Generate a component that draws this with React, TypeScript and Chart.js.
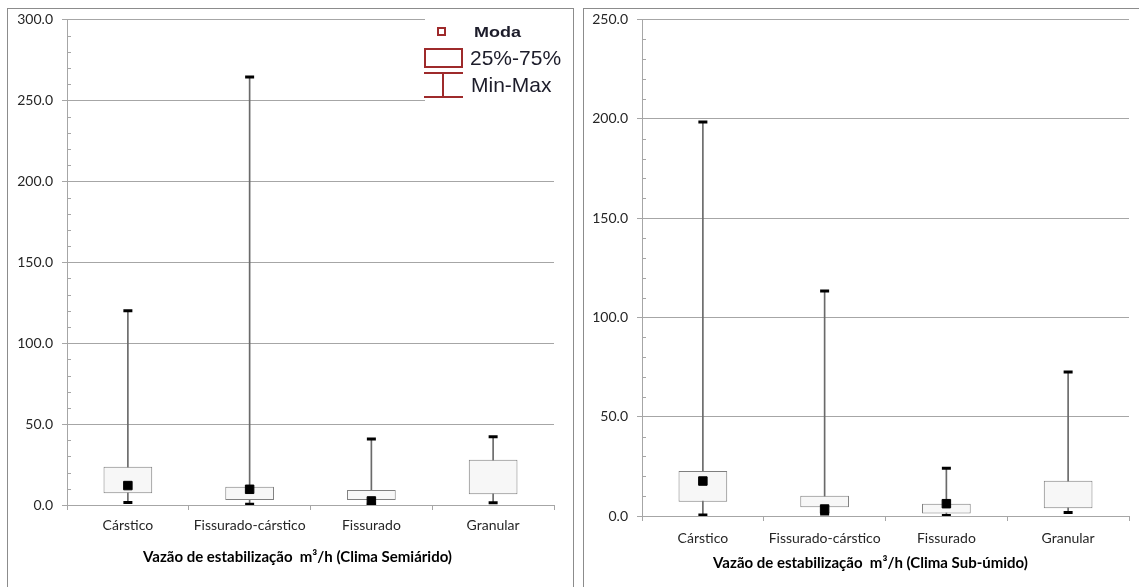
import React, { useEffect, useRef } from 'react';
import { Chart, registerables } from 'chart.js';

Chart.register(...registerables);

// ---------- data ----------
const categories = ['Cárstico', 'Fissurado-cárstico', 'Fissurado', 'Granular'];

// Clima Semiárido
const semiMin = [1.5, 0.5, 0.5, 1.4];
const semiQ1 = [7.2, 3.1, 3.1, 6.6];
const semiQ3 = [23.7, 11.3, 9.3, 28.0];
const semiMax = [120.0, 264.5, 40.8, 42.2];
const semiModa: (number | null)[] = [12.0, 9.7, 2.5, null];

// Clima Sub-úmido
const subMin = [0.5, 1.0, 0.2, 1.7];
const subQ1 = [7.2, 4.4, 1.3, 3.9];
const subQ3 = [22.7, 10.2, 6.2, 17.8];
const subMax = [198.4, 113.3, 24.0, 72.5];
const subModa: (number | null)[] = [17.6, 3.5, 6.2, null];

const semiYMax = 300;
const subYMax = 250;
const yMajorStep = 50;
const yMinorStep = 10;

const semiTitle = 'Vazão de estabilização  m³/h (Clima Semiárido)';
const subTitle = 'Vazão de estabilização  m³/h (Clima Sub-úmido)';

const legendLabels = ['Moda', '25%-75%', 'Min-Max'];

// ---------- styling ----------
const FONT = 'Lato, "Open Sans", sans-serif';
const GRID = '#a6a6a6';
const TXT = '#262626';
const LEG = '#9e2a2b';

const minorTicksPlugin = {
  id: 'minorTicks',
  afterDraw(chart: any) {
    const y = chart.scales.y;
    const ctx = chart.ctx;
    const x0 = chart.chartArea.left;
    ctx.save();
    ctx.strokeStyle = GRID;
    ctx.lineWidth = 1;
    for (let v = 0; v <= y.max; v += yMinorStep) {
      if (v % yMajorStep === 0) continue;
      const py = Math.round(y.getPixelForValue(v)) + 0.5;
      ctx.beginPath();
      ctx.moveTo(x0, py);
      ctx.lineTo(x0 + 4, py);
      ctx.stroke();
    }
    ctx.restore();
  },
};

const xTitlePlugin = {
  id: 'xTitle',
  afterDraw(chart: any, _args: any, opts: any) {
    const ctx = chart.ctx;
    const { left, right } = chart.chartArea;
    ctx.save();
    ctx.font = `bold 15px ${FONT}`;
    ctx.fillStyle = '#000';
    ctx.textAlign = 'center';
    ctx.textBaseline = 'middle';
    ctx.fillText(opts.text, (left + right) / 2 + opts.dx, opts.y);
    ctx.restore();
  },
};

const boxLegendPlugin = {
  id: 'boxLegend',
  afterDraw(chart: any) {
    const ctx = chart.ctx;
    ctx.save();
    // white background
    ctx.fillStyle = '#ffffff';
    ctx.fillRect(417, 5, 131, 91);
    ctx.strokeStyle = LEG;
    ctx.lineWidth = 2;
    // moda square
    ctx.strokeRect(430, 19, 7, 7);
    // box
    ctx.strokeRect(417, 40, 37, 18);
    // min-max
    ctx.beginPath();
    ctx.moveTo(416, 64);
    ctx.lineTo(455, 64);
    ctx.moveTo(435, 64);
    ctx.lineTo(435, 88);
    ctx.moveTo(416, 88);
    ctx.lineTo(455, 88);
    ctx.stroke();
    ctx.fillStyle = '#1c1c2a';
    ctx.textAlign = 'left';
    ctx.textBaseline = 'alphabetic';
    ctx.save();
    ctx.translate(466, 28);
    ctx.scale(1.2, 1);
    ctx.font = 'bold 15px "Liberation Sans", Arial, sans-serif';
    ctx.fillText(legendLabels[0], 0, 0);
    ctx.restore();
    ctx.font = '21px "Liberation Sans", Arial, sans-serif';
    ctx.fillText(legendLabels[1], 462, 56);
    ctx.fillText(legendLabels[2], 463, 83);
    ctx.restore();
  },
};

function makeConfig(
  mins: number[], q1: number[], q3: number[], maxs: number[], moda: (number | null)[],
  yMax: number, title: string,
  geo: { yWidth: number; xHeight: number; padTop: number; padRight: number; labelPad: number; titleDx: number; titleY: number },
  withLegend: boolean
): any {
  return {
    data: {
      labels: categories,
      datasets: [
        {
          type: 'bar',
          data: categories.map((_, i) => [mins[i], maxs[i]]),
          backgroundColor: '#6a6a6a',
          barThickness: 1,
          grouped: false,
          order: 3,
        },
        {
          type: 'bar',
          data: categories.map((_, i) => [q1[i], q3[i]]),
          backgroundColor: '#f7f7f7',
          borderColor: '#7f7f7f',
          borderWidth: 1,
          borderSkipped: false,
          barPercentage: 0.4,
          categoryPercentage: 1,
          grouped: false,
          order: 2,
        },
        {
          type: 'line',
          data: maxs,
          showLine: false,
          pointStyle: 'line',
          pointRadius: 4.5,
          pointBorderWidth: 3,
          pointBorderColor: '#000',
          order: 1,
        },
        {
          type: 'line',
          data: mins,
          showLine: false,
          pointStyle: 'line',
          pointRadius: 4.5,
          pointBorderWidth: 3,
          pointBorderColor: '#000',
          order: 1,
        },
        {
          type: 'line',
          data: moda,
          showLine: false,
          pointStyle: 'rect',
          pointRadius: 6,
          pointBorderWidth: 1,
          pointBackgroundColor: '#000',
          pointBorderColor: '#000',
          order: 0,
        },
      ],
    },
    options: {
      responsive: false,
      animation: false,
      events: [],
      layout: { padding: { top: geo.padTop, right: geo.padRight, left: 0, bottom: 0 } },
      plugins: {
        legend: { display: false },
        tooltip: { enabled: false },
        xTitle: { text: title, dx: geo.titleDx, y: geo.titleY },
      },
      scales: {
        x: {
          offset: true,
          grid: { offset: true, drawOnChartArea: false, tickLength: 5, color: GRID },
          border: { color: GRID },
          ticks: { font: { family: FONT, size: 14 }, color: TXT, padding: geo.labelPad, maxRotation: 0, autoSkip: false },
          afterFit: (s: any) => {
            s.height = geo.xHeight;
            s.paddingLeft = 0;
            s.paddingRight = 0;
          },
        },
        y: {
          min: 0,
          max: yMax,
          ticks: {
            stepSize: yMajorStep,
            callback: (v: any) => Number(v).toFixed(1),
            font: { family: FONT, size: 14 },
            color: TXT,
            padding: 9,
          },
          grid: { color: GRID, tickLength: 5 },
          border: { color: GRID },
          afterFit: (s: any) => {
            s.width = geo.yWidth;
            s.paddingTop = 0;
            s.paddingBottom = 0;
          },
        },
      },
    },
    plugins: withLegend ? [minorTicksPlugin, xTitlePlugin, boxLegendPlugin] : [minorTicksPlugin, xTitlePlugin],
  };
}

export default function App() {
  const leftRef = useRef<HTMLCanvasElement>(null);
  const rightRef = useRef<HTMLCanvasElement>(null);

  useEffect(() => {
    const left = new Chart(
      leftRef.current as HTMLCanvasElement,
      makeConfig(semiMin, semiQ1, semiQ3, semiMax, semiModa, semiYMax, semiTitle,
        { yWidth: 59, xHeight: 82, padTop: 10.5, padRight: 19, labelPad: 7, titleDx: -13, titleY: 548 }, true)
    );
    const right = new Chart(
      rightRef.current as HTMLCanvasElement,
      makeConfig(subMin, subQ1, subQ3, subMax, subModa, subYMax, subTitle,
        { yWidth: 58, xHeight: 71, padTop: 10.5, padRight: 10, labelPad: 9, titleDx: -15, titleY: 554 }, false)
    );
    return () => {
      left.destroy();
      right.destroy();
    };
  }, []);

  return (
    <div style={{ position: 'fixed', left: 0, top: 0, width: 1139, height: 587, background: '#fff', overflow: 'hidden' }}>
      <div style={{ position: 'absolute', left: 7, top: 8, width: 567, height: 600, boxSizing: 'border-box', border: '1px solid #8c8c8c' }}>
        <canvas ref={leftRef} width={565} height={578} style={{ display: 'block' }} />
      </div>
      <div style={{ position: 'absolute', left: 583, top: 8, width: 600, height: 600, boxSizing: 'border-box', border: '1px solid #8c8c8c' }}>
        <canvas ref={rightRef} width={555} height={578} style={{ display: 'block' }} />
      </div>
    </div>
  );
}
